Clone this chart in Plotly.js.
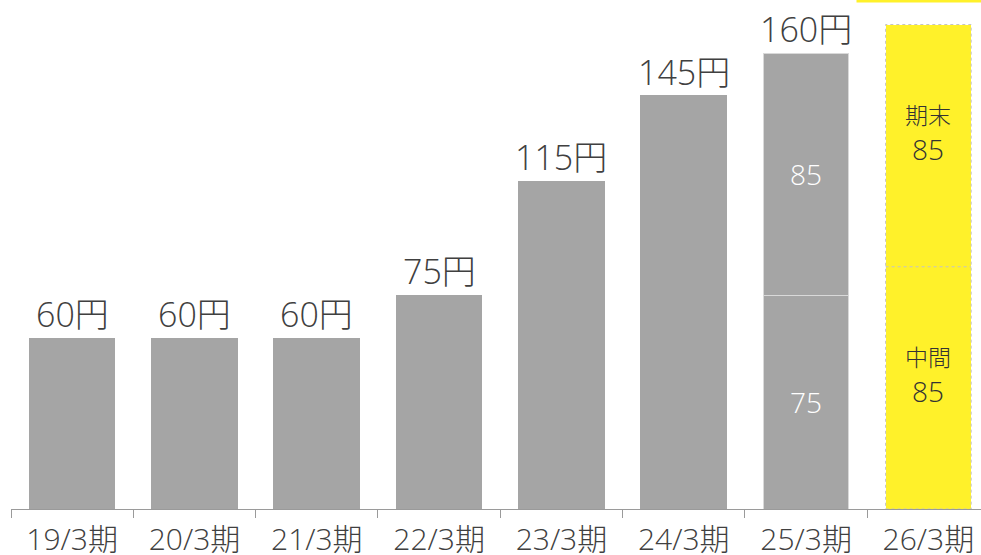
<!DOCTYPE html>
<html>
<head>
<meta charset="utf-8">
<script src="https://cdn.plot.ly/plotly-3.0.1.min.js"></script>
<style>
  html, body { margin: 0; padding: 0; background: #fff; }
  #chart { width: 981px; height: 555px; }
</style>
</head>
<body>
<div id="chart"></div>
<script>
const periods = ['19/3期', '20/3期', '21/3期', '22/3期', '23/3期', '24/3期', '25/3期', '26/3期'];
// actual dividends (25/3期 split into interim + year-end)
const actualPeriods = periods.slice(0, 7);
const interim = [60, 60, 60, 75, 115, 145, 75];
const yearEnd = [0, 0, 0, 0, 0, 0, 85];
const interimLabels = ['', '', '', '', '', '', '75'];
const yearEndLabels = ['', '', '', '', '', '', '85'];
// forecast
const forecastPeriod = '26/3期';
const forecastInterim = 85;
const forecastYearEnd = 85;
const forecastTitle = '170円（予想）';

const GRAY = '#a5a5a5';
const YELLOW = '#fff12a';
const TEXT = '#404040';
const FONT = '"Open Sans", "Noto Sans CJK JP", sans-serif';
const BAR_W = 0.7;

function totalOf(i) {
    return interim[i] + yearEnd[i];
}

const splitLine = interim.map((v, i) => yearEnd[i] > 0 ? '#d9d9d9' : GRAY);

const traces = [
    {
        type: 'bar',
        x: actualPeriods,
        y: interim,
        text: interimLabels,
        textposition: 'inside',
        insidetextanchor: 'middle',
        textfont: {color: '#ffffff', size: 28, family: FONT, weight: 300},
        marker: {color: GRAY, line: {color: splitLine, width: 1}},
        hoverinfo: 'skip'
    },
    {
        type: 'bar',
        x: actualPeriods,
        y: yearEnd,
        text: yearEndLabels,
        textposition: 'inside',
        insidetextanchor: 'middle',
        textfont: {color: '#ffffff', size: 28, family: FONT, weight: 300},
        marker: {color: GRAY, line: {color: splitLine, width: 1}},
        hoverinfo: 'skip'
    },
    {
        type: 'bar',
        x: [forecastPeriod],
        y: [forecastInterim],
        marker: {color: YELLOW, line: {width: 0}},
        hoverinfo: 'skip'
    },
    {
        type: 'bar',
        x: [forecastPeriod],
        y: [forecastYearEnd],
        marker: {color: YELLOW, line: {width: 0}},
        hoverinfo: 'skip'
    }
];

// total labels above the actual bars
const annotations = actualPeriods.map((p, i) => ({
    x: p,
    y: totalOf(i),
    xref: 'x',
    yref: 'y',
    text: totalOf(i) + '円',
    showarrow: false,
    yanchor: 'bottom',
    yshift: -1,
    font: {size: 34, color: TEXT, family: FONT, weight: 300}
}));

// labels inside the forecast bar
[['中間', 0, forecastInterim], ['期末', forecastInterim, forecastYearEnd]].forEach(([name, base, val]) => {
    annotations.push({
        x: forecastPeriod,
        y: base + val / 2,
        xref: 'x',
        yref: 'y',
        text: '<span style="font-size:23px">' + name + '</span><br>' + val,
        showarrow: false,
        yshift: 12,
        font: {size: 28, color: '#333333', family: FONT, weight: 300}
    });
});

// forecast title box, sitting mostly above the visible area
annotations.push({
    x: forecastPeriod,
    y: 1,
    xref: 'x',
    yref: 'paper',
    text: forecastTitle,
    showarrow: false,
    yanchor: 'bottom',
    yshift: -3,
    width: 140,
    bgcolor: YELLOW,
    font: {size: 28, color: TEXT, family: FONT}
});

// dashed outline of the forecast bar
const fIdx = periods.indexOf(forecastPeriod);
const dash = {color: '#c4c4c4', width: 1, dash: 'dot'};
const shapes = [
    {type: 'rect', xref: 'x', yref: 'y', x0: fIdx - BAR_W / 2, x1: fIdx + BAR_W / 2,
     y0: 0, y1: forecastInterim + forecastYearEnd, line: dash},
    {type: 'line', xref: 'x', yref: 'y', x0: fIdx - BAR_W / 2, x1: fIdx + BAR_W / 2,
     y0: forecastInterim, y1: forecastInterim, line: dash}
];

const layout = {
    width: 981,
    height: 555,
    margin: {l: 11, r: 0, t: 0, b: 46},
    paper_bgcolor: '#ffffff',
    plot_bgcolor: '#ffffff',
    barmode: 'stack',
    bargap: 1 - BAR_W,
    showlegend: false,
    font: {family: FONT, color: TEXT},
    xaxis: {
        type: 'category',
        categoryorder: 'array',
        categoryarray: periods,
        range: [-0.5, 7.43],
        tickson: 'boundaries',
        ticks: 'outside',
        ticklen: 8,
        tickcolor: '#9a9a9a',
        ticklabelstandoff: 4,
        showline: true,
        linecolor: '#9a9a9a',
        linewidth: 1,
        showgrid: false,
        tickfont: {size: 30, color: TEXT, family: FONT, weight: 300},
        fixedrange: true
    },
    yaxis: {
        range: [0, 178.6],
        visible: false,
        showgrid: false,
        zeroline: false,
        fixedrange: true
    },
    annotations: annotations,
    shapes: shapes
};

Plotly.newPlot('chart', traces, layout, {staticPlot: true});
</script>
</body>
</html>
